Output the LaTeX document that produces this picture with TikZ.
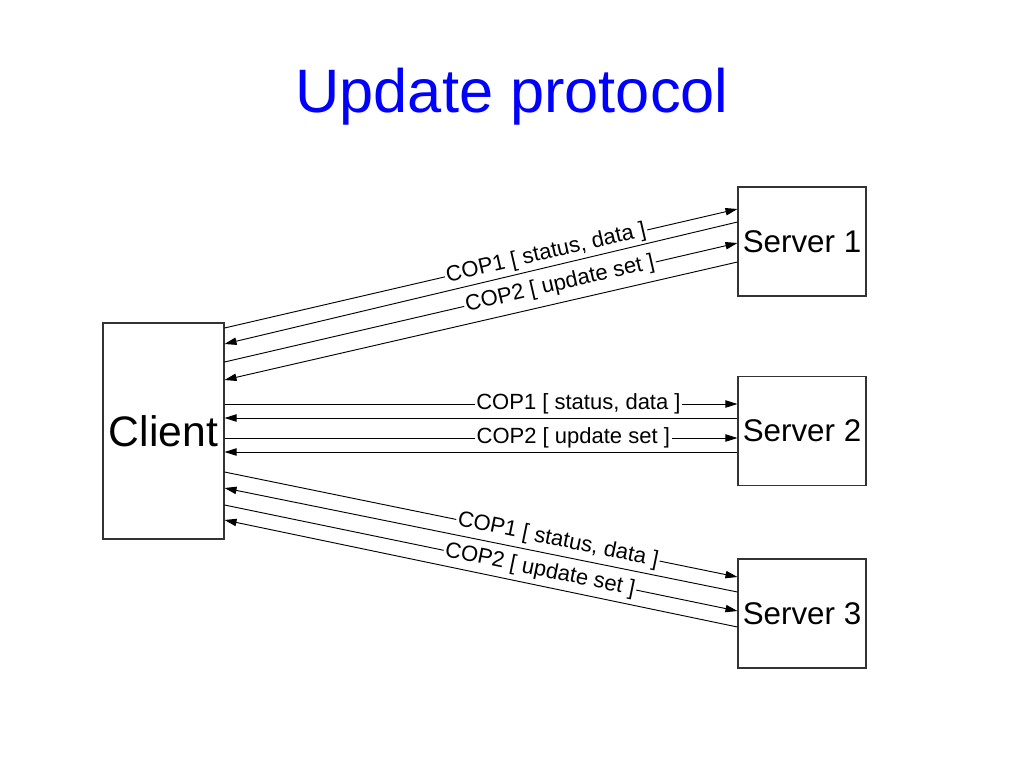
\documentclass[tikz,border=0pt]{standalone}
\usepackage{fontspec}
\setmainfont{Liberation Sans}
\usetikzlibrary{arrows.meta}
\begin{document}
\begin{tikzpicture}[x=0.75pt,y=-0.75pt,
  box/.style={draw=black!80, line width=0.8pt, fill=white, inner sep=0pt},
  conn/.style={draw=black, line width=0.7pt, -{Triangle[length=9pt,width=5.5pt]}},
  lab/.style={fill=white, inner sep=1.2pt, font=\fontsize{16.5}{18}\selectfont, sloped}
]
\useasboundingbox (0,0) rectangle (1024,768);
\node[font=\fontsize{46}{50}\selectfont, text=blue!100] (title) at (512,97) {Update protocol};
\node[box, minimum width=90.75pt, minimum height=162pt, font=\fontsize{32}{36}\selectfont] (client) at (163.5,431) {Client};
\node[box, minimum width=96pt, minimum height=81.75pt, font=\fontsize{23.5}{26}\selectfont] (s1) at (802,241.5) {Server 1};
\node[box, minimum width=96pt, minimum height=81.75pt, font=\fontsize{23.5}{26}\selectfont] (s2) at (802,431) {Server 2};
\node[box, minimum width=96pt, minimum height=81.75pt, font=\fontsize{23.5}{26}\selectfont] (s3) at (802,613.5) {Server 3};
% Server 1
\draw[conn] (client.east |- 0,328) -- node[lab, pos=0.627] {COP1 [ status, data ]} (s1.west |- 0,209);
\draw[conn] (s1.west |- 0,222) -- (client.east |- 0,344);
\draw[conn] (client.east |- 0,362) -- node[lab, pos=0.654] {COP2 [ update set ]} (s1.west |- 0,243);
\draw[conn] (s1.west |- 0,262) -- (client.east |- 0,380);
% Server 2
\draw[conn] (client.east |- 0,404) -- node[lab, pos=0.69] {COP1 [ status, data ]} (s2.west |- 0,404);
\draw[conn] (s2.west |- 0,418) -- (client.east |- 0,418);
\draw[conn] (client.east |- 0,438) -- node[lab, pos=0.68] {COP2 [ update set ]} (s2.west |- 0,438);
\draw[conn] (s2.west |- 0,452) -- (client.east |- 0,452);
% Server 3
\draw[conn] (client.east |- 0,472) -- node[lab, pos=0.65] {COP1 [ status, data ]} (s3.west |- 0,577);
\draw[conn] (s3.west |- 0,592) -- (client.east |- 0,488);
\draw[conn] (client.east |- 0,505) -- node[lab, pos=0.615] {COP2 [ update set ]} (s3.west |- 0,611);
\draw[conn] (s3.west |- 0,627) -- (client.east |- 0,520);
\end{tikzpicture}
\end{document}
